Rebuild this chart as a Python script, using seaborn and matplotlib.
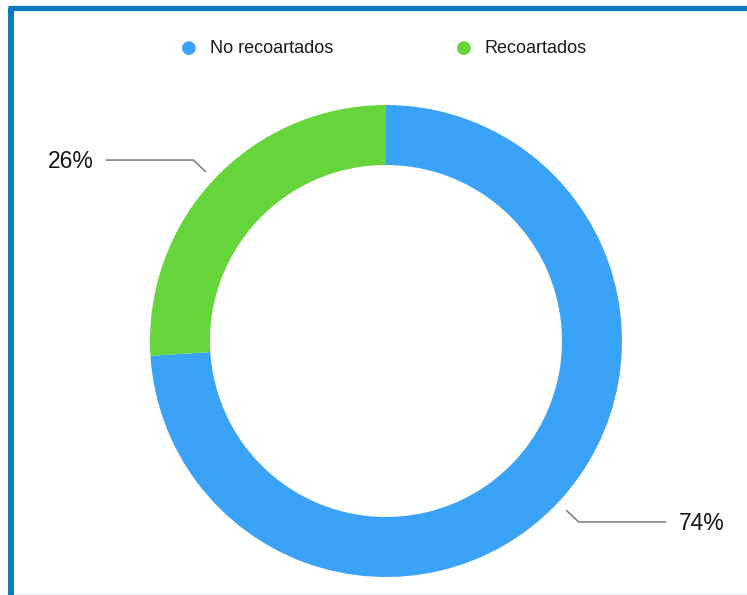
import matplotlib
matplotlib.use("Agg")
import matplotlib.pyplot as plt
import seaborn as sns
import numpy as np

categories = ["No recoartados", "Recoartados"]
values = [74, 26]
labels = ["74%", "26%"]
colors = ["#3AA2F7", "#66D53B"]

sns.set_theme(style="white")
plt.rcParams['font.family'] = ['Liberation Sans', 'DejaVu Sans']

W, H = 747, 595
fig = plt.figure(figsize=(W / 100, H / 100), dpi=100)
fig.patch.set_facecolor("white")

# frame lines (left and top borders)
border = "#0B7BC1"
fig.add_artist(plt.Line2D([11 / W, 11 / W], [0, 1 - 7.5 / H], color=border, lw=4.3,
                          transform=fig.transFigure, solid_capstyle="butt"))
fig.add_artist(plt.Line2D([8 / W, 1], [1 - 7.5 / H, 1 - 7.5 / H], color=border, lw=3.8,
                          transform=fig.transFigure, solid_capstyle="butt"))
fig.add_artist(plt.Line2D([14 / W, 1], [1.5 / H, 1.5 / H], color="#EEF2F6", lw=1,
                          transform=fig.transFigure))

cx, cy, R = 386, 595 - 341, 236
ax = fig.add_axes([(cx - R) / W, (cy - R) / H, 2 * R / W, 2 * R / H])
wedges, _ = ax.pie(values, colors=colors, startangle=90, counterclock=False,
                   radius=1.0, wedgeprops=dict(width=60 / 236, edgecolor="none"))
ax.set_xlim(-1, 1)
ax.set_ylim(-1, 1)
ax.set_aspect("equal")
ax.axis("off")

# leader lines & labels
for w, lab in zip(wedges, labels):
    ang = np.deg2rad((w.theta1 + w.theta2) / 2)
    x0, y0 = 1.05 * np.cos(ang), 1.05 * np.sin(ang)
    x1, y1 = 1.12 * np.cos(ang), 1.12 * np.sin(ang)
    sign = np.sign(np.cos(ang))
    x2 = sign * 1.185
    ax.plot([x0, x1, x2], [y0, y1, y1], color="#7A7A7A", lw=1.1, clip_on=False)
    ax.text(x2 + sign * 0.055, y1 - 0.005, lab, ha="left" if sign > 0 else "right",
            va="center", fontsize=16.5, color="#141414", clip_on=False)

# legend
for cat, col, xd in zip(categories, colors, [189, 464]):
    fig.text(xd / W, 1 - 48 / H, "\u25CF", color=col, fontsize=13, ha="center",
             va="center", family=['DejaVu Sans'])
    fig.text((xd + 21) / W, 1 - 48.5 / H, cat, color="#1A1A1A", fontsize=13,
             ha="left", va="center")

fig.savefig("out.png", dpi=100, facecolor="white")
